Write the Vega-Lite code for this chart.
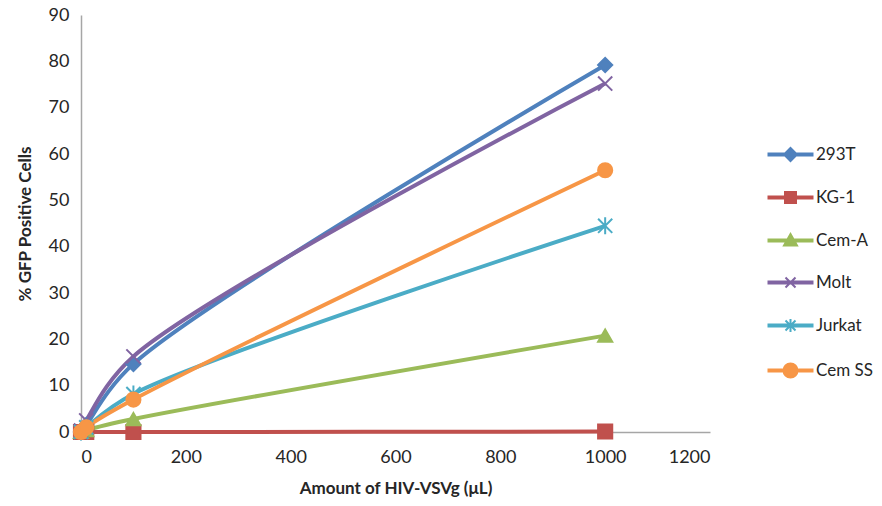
{
  "$schema": "https://vega.github.io/schema/vega-lite/v6.json",
  "autosize": {"type": "none"},
  "width": 629,
  "height": 417,
  "padding": {"left": 81, "top": 15, "right": 172, "bottom": 74},
  "background": "white",
  "config": {
    "view": {"stroke": null},
    "font": "Lato",
    "axis": {"grid": false, "domainColor": "#A6A6A6", "domainWidth": 1.5, "ticks": false, "labelFont": "Lato", "labelFontSize": 18, "labelColor": "#262626", "titleFont": "Lato", "titleFontSize": 17, "titleFontWeight": "bold", "titleColor": "#262626"},
    "legend": {"title": null, "orient": "none", "legendX": 701, "legendY": 131, "labelFont": "Lato", "labelFontSize": 17, "labelColor": "#262626", "rowPadding": 23, "symbolSize": 100, "symbolStrokeWidth": 2, "labelOffset": 17}
  },
  "data": {
    "values": [
      {"series": "293T", "x": 0, "y": 0}, {"series": "293T", "x": 10, "y": 1.5}, {"series": "293T", "x": 100, "y": 14.7}, {"series": "293T", "x": 1000, "y": 79.2},
      {"series": "KG-1", "x": 0, "y": 0}, {"series": "KG-1", "x": 10, "y": 0}, {"series": "KG-1", "x": 100, "y": 0}, {"series": "KG-1", "x": 1000, "y": 0.1},
      {"series": "Cem-A", "x": 0, "y": 0}, {"series": "Cem-A", "x": 10, "y": 0.4}, {"series": "Cem-A", "x": 100, "y": 2.8}, {"series": "Cem-A", "x": 1000, "y": 20.8},
      {"series": "Molt", "x": 0, "y": 0.3}, {"series": "Molt", "x": 10, "y": 2.5}, {"series": "Molt", "x": 100, "y": 16.3}, {"series": "Molt", "x": 1000, "y": 75.2},
      {"series": "Jurkat", "x": 0, "y": 0}, {"series": "Jurkat", "x": 10, "y": 1.0}, {"series": "Jurkat", "x": 100, "y": 8.2}, {"series": "Jurkat", "x": 1000, "y": 44.5},
      {"series": "Cem SS", "x": 0, "y": 0}, {"series": "Cem SS", "x": 10, "y": 1.0}, {"series": "Cem SS", "x": 100, "y": 7.0}, {"series": "Cem SS", "x": 1000, "y": 56.5}
    ]
  },
  "encoding": {
    "x": {"field": "x", "type": "quantitative", "scale": {"domain": [0, 1200], "nice": false}, "axis": {"values": [0, 200, 400, 600, 800, 1000, 1200], "format": "d", "title": "Amount of HIV-VSVg (μL)", "labelPadding": 16, "titlePadding": 14}},
    "y": {"field": "y", "type": "quantitative", "scale": {"domain": [0, 90], "nice": false}, "axis": {"values": [0, 10, 20, 30, 40, 50, 60, 70, 80, 90], "title": "% GFP Positive Cells", "labelPadding": 12, "titlePadding": 14}},
    "color": {"field": "series", "type": "nominal", "scale": {"domain": ["293T", "KG-1", "Cem-A", "Molt", "Jurkat", "Cem SS"], "range": ["#4F81BD", "#C0504D", "#9BBB59", "#8064A2", "#4BACC6", "#F79646"]},
      "legend": {"encode": {"symbols": {"update": {"shape": {"signal": "datum.value === '293T' ? 'M-4.4,-0.2H4.4V0.2H-4.4ZM0,-1.3L1.3,0L0,1.3L-1.3,0Z' : datum.value === 'KG-1' ? 'M-4.4,-0.2H4.4V0.2H-4.4ZM-1.1,-1.1H1.1V1.1H-1.1Z' : datum.value === 'Cem-A' ? 'M-4.4,-0.2H4.4V0.2H-4.4ZM0,-1.3L1.3,1.0L-1.3,1.0Z' : datum.value === 'Molt' ? 'M-4.4,-0.2H4.4V0.2H-4.4ZM-1,-1L1,1M-1,1L1,-1' : datum.value === 'Jurkat' ? 'M-4.4,-0.2H4.4V0.2H-4.4ZM-1,-1L1,1M-1,1L1,-1M0,-1.3V1.3' : 'M-4.4,-0.2H4.4V0.2H-4.4ZM-1.4,0A1.4,1.4,0,1,0,1.4,0A1.4,1.4,0,1,0,-1.4,0Z'"}, "strokeWidth": {"value": 2}}}}}}
  },
  "layer": [
    {
      "mark": {"type": "line", "interpolate": "catmull-rom", "strokeWidth": 4},
      "encoding": {
        "detail": {"field": "series"}
      }
    },
    {
      "mark": {"type": "point", "filled": true, "opacity": 1, "strokeWidth": 2},
      "encoding": {
        "stroke": {"field": "series", "type": "nominal", "scale": {"domain": ["293T", "KG-1", "Cem-A", "Molt", "Jurkat", "Cem SS"], "range": ["#4F81BD", "#C0504D", "#9BBB59", "#8064A2", "#4BACC6", "#F79646"]}},
        "shape": {"field": "series", "type": "nominal", "legend": null, "scale": {"domain": ["Cem SS", "Jurkat", "Molt", "Cem-A", "KG-1", "293T"], "range": ["circle", "M-1,-1L1,1M-1,1L1,-1M0,-1.2L0,1.2", "M-1,-1L1,1M-1,1L1,-1", "triangle-up", "square", "diamond"]}},
        "size": {"value": 200}
      }
    }
  ]
}
